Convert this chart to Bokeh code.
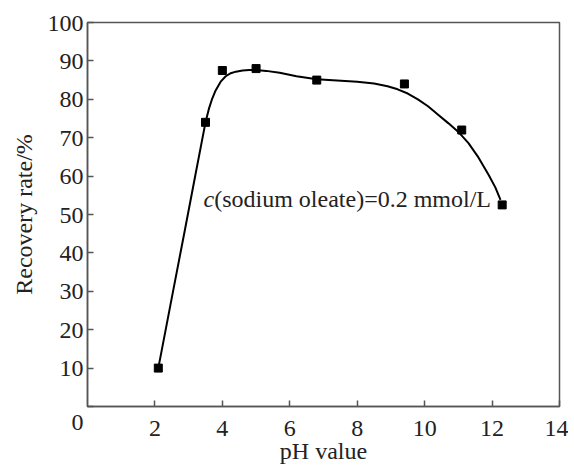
from bokeh.plotting import figure
from bokeh.models import FixedTicker, Label, Range1d
from bokeh.embed import file_html
from bokeh.resources import INLINE

# measured points
ph = [2.1, 3.5, 4.0, 5.0, 6.8, 9.4, 11.1, 12.3]
recovery = [10, 74, 87.5, 88, 85, 84, 72, 52.5]

# fitted curve
curve_ph = [2.1, 2.5, 2.9, 3.2, 3.5, 3.6, 3.7, 3.8, 3.95, 4.1, 4.25, 4.4, 4.6, 4.8,
            5.0, 5.3, 5.7, 6.2, 6.8, 7.4, 8.0, 8.5, 8.9, 9.2, 9.5, 9.8, 10.1,
            10.4, 10.7, 11.0, 11.3, 11.6, 11.9, 12.1, 12.25]
curve_rec = [10, 28.3, 46.5, 60.3, 74, 77.5, 80.2, 82.3, 84.6, 86.0, 86.8, 87.2, 87.5, 87.6,
             87.6, 87.4, 86.9, 86.0, 85.2, 84.9, 84.6, 84.1, 83.4, 82.6, 81.5, 80.0, 78.2,
             76.0, 73.8, 71.5, 68.6, 64.8, 60.3, 57.0, 53.8]

x_ticks = [2, 4, 6, 8, 10, 12, 14]
y_ticks = [0, 10, 20, 30, 40, 50, 60, 70, 80, 90, 100]

FONT = "Liberation Serif"
AX = "#555555"
TXT = "#222222"
FS = "24px"

p = figure(width=568, height=466, output_backend="svg", toolbar_location=None,
           x_range=Range1d(0, 14), y_range=Range1d(0, 100),
           min_border_left=87, min_border_right=9, min_border_top=22, min_border_bottom=58)
p.grid.visible = False
p.outline_line_color = AX
p.outline_line_width = 1.5
p.background_fill_color = "white"
p.border_fill_color = "white"

p.line(curve_ph, curve_rec, line_color="black", line_width=2)
p.scatter(ph, recovery, marker="square", size=8, fill_color="black", line_color="black")

for ax in (p.xaxis[0], p.yaxis[0]):
    ax.axis_line_color = AX
    ax.axis_line_width = 1.5
    ax.major_tick_line_color = AX
    ax.major_tick_line_width = 1.5
    ax.major_tick_in = 6
    ax.major_tick_out = 0
    ax.minor_tick_line_color = None
    ax.major_label_text_font = FONT
    ax.major_label_text_font_size = FS
    ax.major_label_text_color = TXT
    ax.axis_label_text_font = FONT
    ax.axis_label_text_font_size = FS
    ax.axis_label_text_font_style = "normal"
    ax.axis_label_text_color = TXT

p.xaxis.ticker = FixedTicker(ticks=x_ticks)
p.yaxis.ticker = FixedTicker(ticks=y_ticks)
p.yaxis.major_label_overrides = {0: "\n0"}
p.xaxis.axis_label = "pH value"
p.yaxis.axis_label = "Recovery rate/%"
p.xaxis.major_label_standoff = 14
p.xaxis.axis_label_standoff = -1
p.yaxis.major_label_standoff = 4
p.yaxis.axis_label_standoff = 8

p.add_layout(Label(x=3.44, y=54, text="c", text_font=FONT, text_font_style="italic",
                   text_font_size=FS, text_color=TXT, text_baseline="alphabetic"))
p.add_layout(Label(x=3.44, y=54, x_offset=10.7, text="(sodium oleate)=0.2 mmol/L", text_font=FONT,
                   text_font_size=FS, text_color=TXT, text_baseline="alphabetic"))

open("out.html", "w").write(file_html(p, INLINE))
